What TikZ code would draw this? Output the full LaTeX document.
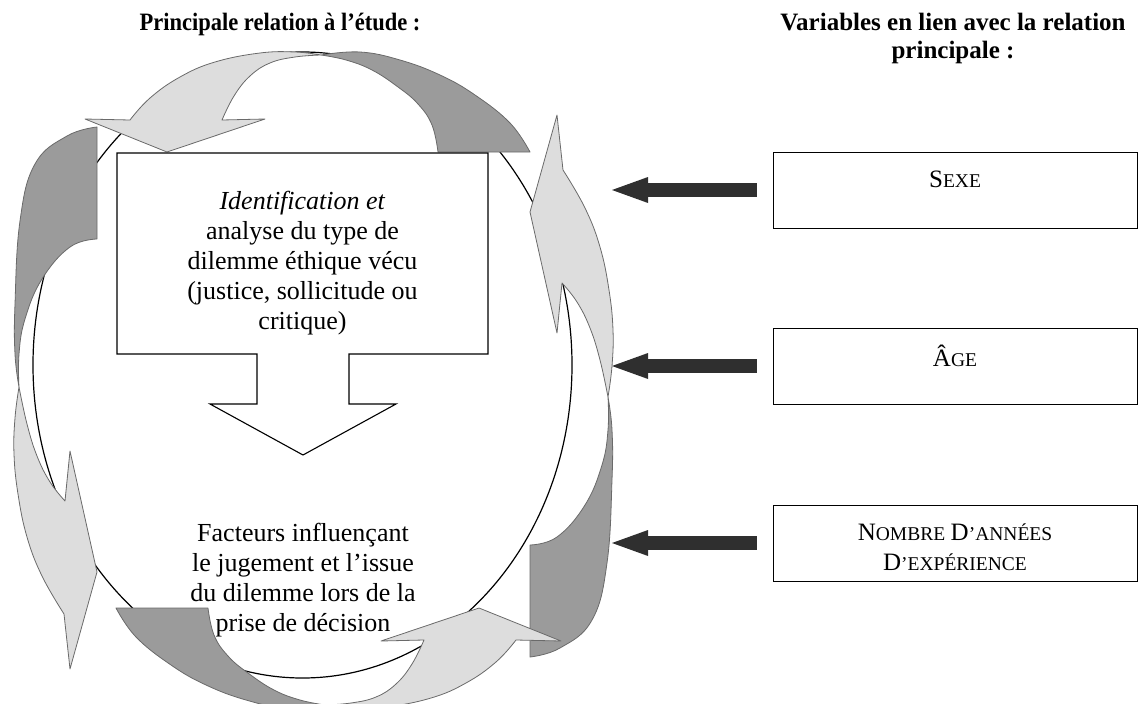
\documentclass[tikz,border=0pt]{standalone}
\usepackage{fontspec}
\setmainfont{Liberation Serif}
\usepackage{graphicx}
\usetikzlibrary{arrows.meta}
\definecolor{lightarr}{HTML}{DDDDDD}
\definecolor{darkarr}{HTML}{9B9B9B}
\definecolor{arredge}{HTML}{6A6A6A}
\definecolor{bigarrow}{HTML}{2F2F2F}
\newcommand\capA[1]{{\fontsize{25}{30}\selectfont #1}}
\newcommand\capB[1]{{\fontsize{19.5}{30}\selectfont #1}}
\begin{document}
\begin{tikzpicture}[x=1pt,y=-1pt,
  lightA/.style={fill=lightarr,draw=arredge,line width=0.8pt,line join=round},
  darkA/.style={fill=darkarr,draw=arredge,line width=0.8pt,line join=round},
  ring/.style={draw=black,line width=1.2pt},
  callout/.style={draw=black,fill=white,line width=1.1pt,line join=miter},
  bodytext/.style={align=center,inner sep=0pt,font=\fontsize{26}{30}\selectfont},
  titletext/.style={align=center,inner sep=0pt,font=\fontsize{25}{28}\selectfont\bfseries},
  varbox/.style={draw=black,line width=1pt,minimum width=364pt,minimum height=76pt,inner sep=0pt},
  vartext/.style={align=center,inner sep=0pt,font=\fontsize{22}{30}\selectfont},
  bigarr/.style={draw=bigarrow,line width=14pt,-{Triangle[length=36pt,width=26pt,line width=0pt]}}
]
\useasboundingbox (0,0) rectangle (1138,704);

% ring behind the arrows
\draw[ring] (302.5,365) ellipse [x radius=269.5pt, y radius=313pt];

% arrows 1-4
\path[lightA] (167,152) -- (85,119) -- (130,120)
  -- plot[smooth,tension=0.7] coordinates {(130,120) (150,98) (180,77) (215,62) (260,53) (295,52) (321,55)}
  -- plot[smooth,tension=0.7] coordinates {(321,55) (295,57) (270,63) (250,76) (234,96) (222,120)}
  -- (265,119) -- cycle;
\path[darkA] (321,55)
  -- plot[smooth,tension=0.7] coordinates {(321,55) (360,52) (400,60) (440,75) (475,95) (510,123) (530,152)}
  -- (438,152)
  -- plot[smooth,tension=0.7] coordinates {(438,152) (432,125) (418,104) (398,87) (372,70) (346,60) (321,55)}
  -- cycle;
\path[lightA] (557,115) -- (563,170)
  -- plot[smooth,tension=0.7] coordinates {(563,170) (585,208) (600,247) (609,290) (613,330) (612,366) (608,397)}
  -- plot[smooth,tension=0.7] coordinates {(608,397) (600,360) (590,328) (577,302) (562,283)}
  -- (557,333) -- (530,212) -- cycle;
\path[darkA] (608,397)
  -- plot[smooth,tension=0.7] coordinates {(608,397) (612,430) (612,480) (607,563) (592,620) (560,648) (530,657)}
  -- (530,545)
  -- plot[smooth,tension=0.7] coordinates {(530,545) (557,537) (585,505) (602,465) (608,430) (608,397)}
  -- cycle;

% arrows 5-6 (half turn of 1-2)
\begin{scope}[rotate around={180:(323,380)}]
\path[lightA] (167,152) -- (85,119) -- (130,120)
  -- plot[smooth,tension=0.7] coordinates {(130,120) (150,98) (180,77) (215,62) (260,53) (295,52) (321,55)}
  -- plot[smooth,tension=0.7] coordinates {(321,55) (295,57) (270,63) (250,76) (234,96) (222,120)}
  -- (265,119) -- cycle;
\path[darkA] (321,55)
  -- plot[smooth,tension=0.7] coordinates {(321,55) (360,52) (400,60) (440,75) (475,95) (510,123) (530,152)}
  -- (438,152)
  -- plot[smooth,tension=0.7] coordinates {(438,152) (432,125) (418,104) (398,87) (372,70) (346,60) (321,55)}
  -- cycle;
\end{scope}
% arrows 7-8 (half turn of 3-4)
\begin{scope}[rotate around={180:(313.5,392)}]
\path[lightA] (557,115) -- (563,170)
  -- plot[smooth,tension=0.7] coordinates {(563,170) (585,208) (600,247) (609,290) (613,330) (612,366) (608,397)}
  -- plot[smooth,tension=0.7] coordinates {(608,397) (600,360) (590,328) (577,302) (562,283)}
  -- (557,333) -- (530,212) -- cycle;
\path[darkA] (608,397)
  -- plot[smooth,tension=0.7] coordinates {(608,397) (612,430) (612,480) (607,563) (592,620) (560,648) (530,657)}
  -- (530,545)
  -- plot[smooth,tension=0.7] coordinates {(530,545) (557,537) (585,505) (602,465) (608,430) (608,397)}
  -- cycle;
\end{scope}

% box with down arrow
\draw[callout] (117,153) -- (488,153) -- (488,354) -- (349,354) -- (349,404) -- (396,404)
  -- (303,455) -- (210,404) -- (257,404) -- (257,354) -- (117,354) -- cycle;

\node[bodytext] (ident) at (302.5,263) {\textit{Identification et}\\analyse du type de\\dilemme éthique vécu\\(justice, sollicitude ou\\critique)};
\node[bodytext] (fact) at (303,580) {Facteurs influençant\\le jugement et l’issue\\du dilemme lors de la\\prise de décision};

% titles
\node[titletext] (tleft) at (280,24) {\scalebox{0.9}[1]{Principale relation à l’étude :}};
\node[titletext] (tright) at (953,38) {Variables en lien avec la relation\\principale :};

% variable boxes
\node[varbox] (sexe) at (955,190) {};
\node[varbox] (age) at (955,366) {};
\node[varbox] (nombre) at (955,543) {};
\node[vartext] (sexet) at ([yshift=11pt]sexe.center) {\capA{S}\capB{EXE}};
\node[vartext] (aget) at ([yshift=10pt]age.center) {\capA{Â}\capB{GE}};
\node[vartext] (nombret) at ([yshift=-4pt]nombre.center) {\capA{N}\capB{OMBRE} \capA{D}\capB{’ANNÉES}\\\capA{D}\capB{’EXPÉRIENCE}};

\coordinate (tip1) at (612,190);
\coordinate (tip2) at (612,366);
\coordinate (tip3) at (612,543);
\draw[bigarr] ([xshift=-16pt]sexe.west) -- (tip1);
\draw[bigarr] ([xshift=-16pt]age.west) -- (tip2);
\draw[bigarr] ([xshift=-16pt]nombre.west) -- (tip3);
\end{tikzpicture}
\end{document}
